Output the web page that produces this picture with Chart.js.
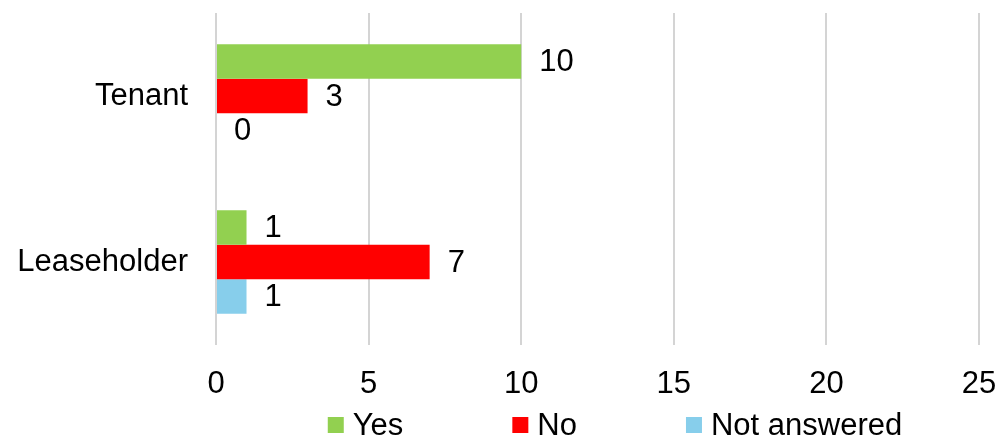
<!DOCTYPE html>
<html>
<head>
<meta charset="utf-8">
<script src="https://cdn.jsdelivr.net/npm/chart.js@4.4.1/dist/chart.umd.min.js"></script>
<style>
  html, body { margin: 0; padding: 0; background: #fff; }
</style>
</head>
<body>
<canvas id="answerChart" width="999" height="436"></canvas>
<script>
const categories = ['Tenant', 'Leaseholder'];
const seriesNames = ['Yes', 'No', 'Not answered'];
const yesValues = [10, 1];
const noValues = [3, 7];
const notAnsweredValues = [0, 1];
const xTicks = [0, 5, 10, 15, 20, 25];

const FONT = '"Liberation Sans", Arial, sans-serif';

// value printed just past the end of each bar
const valueLabels = {
    id: 'valueLabels',
    afterDatasetsDraw(chart) {
        const ctx = chart.ctx;
        ctx.save();
        ctx.font = '31px ' + FONT;
        ctx.fillStyle = '#000';
        ctx.textAlign = 'left';
        ctx.textBaseline = 'middle';
        chart.data.datasets.forEach((ds, i) => {
            chart.getDatasetMeta(i).data.forEach((bar, j) => {
                ctx.fillText(ds.data[j], bar.x + 18, bar.y + 1);
            });
        });
        ctx.restore();
    }
};

// simple legend row under the axis: square swatch + name
const bottomLegend = {
    id: 'bottomLegend',
    afterDraw(chart, args, opts) {
        const ctx = chart.ctx;
        const box = 16, textGap = 9, itemGap = 109;
        ctx.save();
        ctx.font = '31px ' + FONT;
        const items = chart.data.datasets.map(ds => ({
            text: ds.label,
            color: ds.backgroundColor,
            width: box + textGap + ctx.measureText(ds.label).width
        }));
        const total = items.reduce((s, it) => s + it.width, 0) + itemGap * (items.length - 1);
        let x = opts.centerX - total / 2;
        const y = opts.y;
        ctx.textAlign = 'left';
        ctx.textBaseline = 'middle';
        items.forEach(it => {
            ctx.fillStyle = it.color;
            ctx.fillRect(x, y - box / 2, box, box);
            ctx.fillStyle = '#000';
            ctx.fillText(it.text, x + box + textGap, y + 1);
            x += it.width + itemGap;
        });
        ctx.restore();
    }
};

const ctx = document.getElementById('answerChart').getContext('2d');

new Chart(ctx, {
    type: 'bar',
    data: {
        labels: categories,
        datasets: [
            { label: seriesNames[0], data: yesValues, backgroundColor: '#92D050' },
            { label: seriesNames[1], data: noValues, backgroundColor: '#FF0000' },
            { label: seriesNames[2], data: notAnsweredValues, backgroundColor: '#87CEEB' }
        ]
    },
    options: {
        indexAxis: 'y',
        responsive: false,
        animation: false,
        devicePixelRatio: 1,
        categoryPercentage: 0.623,
        barPercentage: 1,
        layout: {
            padding: { top: 13, right: 20, bottom: 35, left: 0 }
        },
        scales: {
            x: {
                min: xTicks[0],
                max: xTicks[xTicks.length - 1],
                afterBuildTicks: axis => {
                    axis.ticks = xTicks.map(v => ({ value: v }));
                },
                // fixed axis band, no extra edge padding for the end labels
                afterFit: axis => {
                    axis.height = 56;
                    axis.paddingLeft = 0;
                    axis.paddingRight = 0;
                },
                grid: { color: '#d4d4d4', lineWidth: 2, drawTicks: false },
                border: { display: false },
                ticks: {
                    padding: 21,
                    color: '#000',
                    font: { family: FONT, size: 31 }
                }
            },
            y: {
                afterFit: axis => {
                    axis.width = 216;
                    axis.paddingTop = 0;
                    axis.paddingBottom = 0;
                },
                grid: { display: false, drawTicks: false },
                border: { display: false },
                ticks: {
                    padding: 28,
                    color: '#000',
                    font: { family: FONT, size: 31 }
                }
            }
        },
        plugins: {
            legend: { display: false },
            tooltip: { enabled: false },
            bottomLegend: { centerX: 615, y: 425 }
        }
    },
    plugins: [valueLabels, bottomLegend]
});
</script>
</body>
</html>
